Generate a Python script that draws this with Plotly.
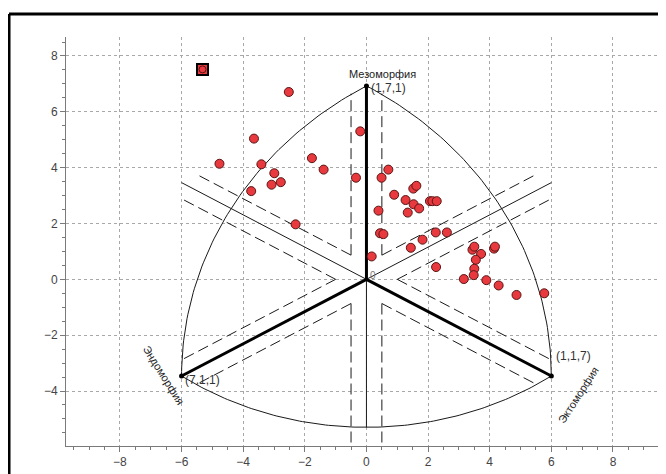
import numpy as np
import plotly.graph_objects as go

# ---------------- data ----------------
vertex_ratings = [(7, 1, 1), (1, 7, 1), (1, 1, 7)]          # endo, meso, ecto
vertex_labels = ["(7,1,1)", "(1,7,1)", "(1,1,7)"]
vertex_names = ["Эндоморфия", "Мезоморфия", "Эктоморфия"]

points_x = [-2.52, -0.20, -3.65, -4.77, -3.41, -1.77, -1.39, -2.99, -2.78, -3.08,
            -3.74, -2.30, -0.34, 0.71, 0.49, 0.90, 1.52, 1.62, 1.27, 1.53,
            1.71, 1.34, 2.06, 2.14, 2.28, 0.39, 0.44, 0.55, 0.17, 2.25,
            2.61, 1.82, 1.44, 2.26, 3.44, 3.50, 3.72, 4.14, 4.17, 3.55,
            3.50, 3.48, 3.16, 3.89, 4.29, 4.87, 5.77]
points_y = [6.71, 5.30, 5.04, 4.14, 4.12, 4.34, 3.93, 3.80, 3.48, 3.39,
            3.16, 1.97, 3.64, 3.93, 3.64, 3.03, 3.25, 3.35, 2.84, 2.69,
            2.54, 2.39, 2.80, 2.80, 2.80, 2.46, 1.65, 1.62, 0.82, 1.68,
            1.68, 1.42, 1.13, 0.44, 1.06, 1.17, 0.91, 1.10, 1.17, 0.70,
            0.38, 0.15, 0.01, -0.03, -0.22, -0.56, -0.50]
selected_x = [-5.32]
selected_y = [7.52]

x_ticks = [-8, -6, -4, -2, 0, 2, 4, 6, 8]
y_ticks = [-4, -2, 0, 2, 4, 6, 8]

# ---------------- geometry ----------------
S3 = np.sqrt(3.0)


def soma_xy(endo, meso, ecto):
    return ecto - endo, (2 * meso - endo - ecto) / S3


verts = [soma_xy(*r) for r in vertex_ratings]
(ex, ey), (mx, my), (cx, cy) = verts
R = np.hypot(mx - ex, my - ey)

fig = go.Figure()
LINE = "#1a1a1a"

# side arcs (Reuleaux style)
t = np.linspace(np.radians(120), np.radians(180), 80)
fig.add_trace(go.Scatter(x=cx + R * np.cos(t), y=cy + R * np.sin(t), mode="lines",
                         line=dict(color=LINE, width=1), hoverinfo="skip", showlegend=False))
t = np.linspace(0, np.radians(60), 80)
fig.add_trace(go.Scatter(x=ex + R * np.cos(t), y=ey + R * np.sin(t), mode="lines",
                         line=dict(color=LINE, width=1), hoverinfo="skip", showlegend=False))
# bottom arc
bottom_y = -5.3
sag = ey - bottom_y
rb = (cx ** 2 + sag ** 2) / (2 * sag)
cyb = bottom_y + rb
a0 = np.arctan2(ey - cyb, cx)
t = np.linspace(np.pi - a0, 2 * np.pi + a0, 120)
fig.add_trace(go.Scatter(x=rb * np.cos(t), y=cyb + rb * np.sin(t), mode="lines",
                         line=dict(color=LINE, width=1), hoverinfo="skip", showlegend=False))

# thin lines from origin (opposite directions of the axes)
tx, ty = [], []
for (vx, vy) in [(-cx, -cy), (-ex, -ey)]:
    tx += [0, vx, None]
    ty += [0, vy, None]
tx += [0, 0, None]
ty += [0, bottom_y, None]
fig.add_trace(go.Scatter(x=tx, y=ty, mode="lines", line=dict(color=LINE, width=1),
                         hoverinfo="skip", showlegend=False))

# dashed parallel lines
off = 0.5
s_in = off * S3
s_out = 6.65
dx, dy = [], []
for ang in [90, 30, 150]:
    u = np.array([np.cos(np.radians(ang)), np.sin(np.radians(ang))])
    n = np.array([-u[1], u[0]])
    for sgn_o in (1, -1):
        for sgn_s in (1, -1):
            p0 = sgn_s * s_in * u + sgn_o * off * n
            p1 = sgn_s * s_out * u + sgn_o * off * n
            dx += [p0[0], p1[0], None]
            dy += [p0[1], p1[1], None]
fig.add_trace(go.Scatter(x=dx, y=dy, mode="lines",
                         line=dict(color=LINE, width=1, dash="11px,5px"),
                         hoverinfo="skip", showlegend=False))

# thick axes
kx, ky = [], []
for (vx, vy) in verts:
    kx += [0, vx, None]
    ky += [0, vy, None]
fig.add_trace(go.Scatter(x=kx, y=ky, mode="lines", line=dict(color="black", width=3),
                         hoverinfo="skip", showlegend=False))
fig.add_trace(go.Scatter(x=[v[0] for v in verts], y=[v[1] for v in verts], mode="markers",
                         marker=dict(color="black", size=5), hoverinfo="skip", showlegend=False))

# data points
fig.add_trace(go.Scatter(x=points_x, y=points_y, mode="markers",
                         marker=dict(color="#e8393e", size=9,
                                     line=dict(color="#5a1515", width=1)),
                         showlegend=False))
fig.add_trace(go.Scatter(x=selected_x, y=selected_y, mode="markers",
                         marker=dict(symbol="square", color="#e8393e", size=11,
                                     line=dict(color="black", width=2)),
                         showlegend=False))
fig.add_trace(go.Scatter(x=selected_x, y=selected_y, mode="markers",
                         marker=dict(color="#e8393e", size=7,
                                     line=dict(color="#5a1515", width=1)),
                         showlegend=False))

FONT = "Arial, Liberation Sans, sans-serif"
ann = []
# (xshift, yshift, angle) for names and labels
name_pos = [(-18, 1, 58), (16, 12, 0), (27, -19, -57)]
lab_pos = [(21, -4), (22, -2), (22, 20)]
for (vx, vy), nm, lb, npz, lpz in zip(verts, vertex_names, vertex_labels, name_pos, lab_pos):
    ann.append(dict(x=vx, y=vy, text=nm, showarrow=False, xshift=npz[0], yshift=npz[1],
                    textangle=npz[2], font=dict(family=FONT, size=11, color="#222")))
    ann.append(dict(x=vx, y=vy, text=lb, showarrow=False, xshift=lpz[0], yshift=lpz[1],
                    font=dict(family=FONT, size=12, color="#333")))
ann.append(dict(x=0, y=0, text="0", showarrow=False, xshift=7, yshift=4,
                font=dict(family=FONT, size=10, color="#777")))

axis_common = dict(showgrid=True, gridcolor="#a8a8a8", griddash="dot", gridwidth=1,
                   showline=True, linecolor="#7a7a7a", linewidth=1, zeroline=False,
                   ticks="outside", ticklen=5, tickcolor="#7a7a7a",
                   tickfont=dict(family=FONT, size=12, color="#444"),
                   minor=dict(dtick=0.5, ticks="outside", ticklen=3, tickcolor="#7a7a7a",
                              showgrid=False))

# the page body adds an 8px offset, so the margins are reduced accordingly;
# the plot area runs past the right edge of the window like in the reference
fig.update_layout(
    width=674, height=474,
    margin=dict(l=58, r=0, t=29, b=36),
    paper_bgcolor="white", plot_bgcolor="white",
    xaxis=dict(range=[-9.75, 10.24], tickvals=x_ticks, **axis_common),
    yaxis=dict(range=[-5.97, 8.68], tickvals=y_ticks, **axis_common),
    annotations=ann,
    shapes=[
        dict(type="line", xref="paper", yref="paper", x0=-0.0925, x1=-0.0925, y0=-0.2, y1=1.056,
             line=dict(color="black", width=3)),
        dict(type="line", xref="paper", yref="paper", x0=-0.0925, x1=1.2, y0=1.056, y1=1.056,
             line=dict(color="black", width=3)),
    ],
)

fig.write_html("out.html")
